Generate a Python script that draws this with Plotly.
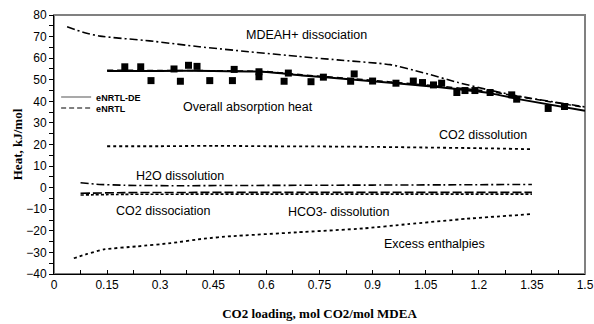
import plotly.graph_objects as go

# ---- data ----
mdeah_x = [0.037, 0.082, 0.13, 0.27, 0.41, 0.55, 0.69, 0.80, 0.95, 1.04, 1.14, 1.23, 1.32, 1.5]
mdeah_y = [74.6, 72.0, 70.2, 68.0, 65.3, 63.0, 60.8, 59.2, 57.0, 53.4, 48.8, 45.2, 42.2, 37.4]

overall_x = [0.15, 0.30, 0.45, 0.60, 0.70, 0.85, 0.95, 1.09, 1.23, 1.32, 1.5]
overall_de_y = [54.1, 54.1, 54.1, 53.6, 52.0, 50.0, 48.6, 46.5, 43.8, 40.8, 35.6]
overall_nrtl_y = [54.4, 54.3, 54.2, 53.8, 52.3, 50.4, 49.0, 47.0, 44.6, 42.0, 37.2]

exp_x = [0.20, 0.245, 0.274, 0.339, 0.357, 0.380, 0.404, 0.44, 0.504, 0.509, 0.579, 0.579,
         0.65, 0.662, 0.726, 0.761, 0.838, 0.848, 0.90, 0.966, 1.015, 1.041, 1.072, 1.095,
         1.138, 1.161, 1.189, 1.232, 1.293, 1.307, 1.396, 1.442]
exp_y = [56.0, 56.0, 49.6, 55.0, 49.3, 56.7, 56.2, 49.6, 49.6, 54.8, 53.7, 51.4,
         49.3, 53.1, 49.1, 51.2, 49.3, 52.7, 49.4, 48.4, 49.4, 48.7, 47.6, 48.4,
         44.1, 45.0, 45.0, 44.1, 43.0, 41.0, 36.7, 37.6]

co2_dissol_x = [0.15, 0.30, 0.45, 0.60, 0.75, 0.90, 1.05, 1.20, 1.35]
co2_dissol_y = [19.2, 19.2, 19.4, 19.2, 19.1, 18.9, 18.6, 18.3, 17.8]

h2o_x = [0.075, 0.12, 0.2, 0.35, 0.5, 0.7, 0.9, 1.1, 1.35]
h2o_y = [2.3, 1.6, 1.1, 0.9, 1.0, 1.1, 1.2, 1.3, 1.5]

co2_dissoc_x = [0.075, 0.2, 0.4, 0.6, 0.8, 1.0, 1.2, 1.35]
co2_dissoc_y = [-2.6, -2.3, -2.2, -2.2, -2.2, -2.2, -2.2, -2.2]

hco3_x = [0.075, 0.2, 0.4, 0.6, 0.8, 1.0, 1.2, 1.35]
hco3_y = [-3.4, -3.1, -3.0, -3.0, -3.0, -3.0, -3.0, -3.0]

excess_x = [0.056, 0.094, 0.141, 0.235, 0.33, 0.424, 0.50, 0.686, 0.873, 1.0, 1.166, 1.345]
excess_y = [-32.7, -30.7, -28.6, -27.2, -25.7, -23.6, -22.5, -20.7, -18.9, -16.9, -14.4, -12.3]

x_ticks = [0, 0.15, 0.3, 0.45, 0.6, 0.75, 0.9, 1.05, 1.2, 1.35, 1.5]
x_tick_text = ["0", "0.15", "0.3", "0.45", "0.6", "0.75", "0.9", "1.05", "1.2", "1.35", "1.5"]
y_ticks = [-40, -30, -20, -10, 0, 10, 20, 30, 40, 50, 60, 70, 80]

labels = ["MDEAH+ dissociation", "Overall absorption heat", "CO2 dissolution", "H2O dissolution",
          "CO2 dissociation", "HCO3- dissolution", "Excess enthalpies"]
label_x = [0.712, 0.548, 1.212, 0.356, 0.308, 0.805, 1.076]
label_y = [70.6, 37.3, 24.6, 5.6, -11.0, -11.5, -26.2]

fig = go.Figure()

def line(x, y, dash, width=1.6):
    fig.add_trace(go.Scatter(x=x, y=y, mode="lines", showlegend=False,
                             line=dict(color="black", width=width, dash=dash, shape="spline",
                                       smoothing=0.5)))

line(mdeah_x, mdeah_y, "8px,3px,2px,3px")
line(co2_dissol_x, co2_dissol_y, "3px,3px", 1.8)
line(h2o_x, h2o_y, "8px,3px,2px,3px")
line(co2_dissoc_x, co2_dissoc_y, "9px,3px", 1.6)
line(hco3_x, hco3_y, "3px,2px", 1.6)
line(excess_x, excess_y, "3px,3px", 1.8)
line(overall_x, overall_nrtl_y, "6px,4px", 1.5)
line(overall_x, overall_de_y, "solid", 2.0)

fig.add_trace(go.Scatter(x=exp_x, y=exp_y, mode="markers", showlegend=False,
                         marker=dict(symbol="square", size=7, color="black")))

# legend entries (two separate legends to get tight spacing)
fig.add_trace(go.Scatter(x=[None], y=[None], mode="lines", name="<b>eNRTL-DE</b>",
                         legend="legend", line=dict(color="#555555", width=1.2)))
fig.add_trace(go.Scatter(x=[None], y=[None], mode="lines", name="<b>eNRTL</b>",
                         legend="legend2", line=dict(color="black", width=1.2, dash="5px,3px")))

for t, lx, ly in zip(labels, label_x, label_y):
    fig.add_annotation(x=lx, y=ly, text=t, showarrow=False,
                       font=dict(family="Liberation Sans, Arial", size=12.5, color="black"))

fig.add_shape(type="rect", xref="paper", yref="paper", x0=0, x1=1, y0=0, y1=1,
              line=dict(color="#808080", width=2), layer="below")

leg_common = dict(xanchor="left", yanchor="middle", bgcolor="rgba(0,0,0,0)",
                  font=dict(size=9, family="Liberation Sans, Arial"), itemwidth=30,
                  borderwidth=0)

fig.update_layout(
    width=594, height=324,
    margin=dict(l=54, r=9, t=15, b=50),
    paper_bgcolor="white", plot_bgcolor="white",
    font=dict(family="Liberation Sans, Arial", size=12, color="black"),
    showlegend=True,
    legend=dict(x=0.004, y=1 - (97 - 15) / 259, **leg_common),
    legend2=dict(x=0.004, y=1 - (108 - 15) / 259, **leg_common),
    xaxis=dict(range=[0, 1.5], tickvals=x_ticks, ticktext=x_tick_text, ticks="inside",
               ticklen=4, tickcolor="black", showgrid=False, zeroline=False,
               showline=True, linecolor="black", linewidth=1, automargin=False,
               minor=dict(dtick=0.075, ticks="inside", ticklen=4, tickcolor="black"),
               title=dict(text="CO2 loading, mol CO2/mol MDEA", standoff=17,
                          font=dict(family="Liberation Serif, Times New Roman", size=13,
                                    weight="bold"))),
    yaxis=dict(range=[-40, 80], tickvals=y_ticks, ticks="outside", ticklen=4,
               tickcolor="black", showgrid=False, zeroline=False,
               showline=True, linecolor="black", linewidth=1, automargin=False,
               minor=dict(dtick=5, ticks="outside", ticklen=4, tickcolor="black"),
               title=dict(text="Heat, kJ/mol", standoff=0,
                          font=dict(family="Liberation Serif, Times New Roman", size=13,
                                    weight="bold"))),
)

fig.write_html("out.html")
